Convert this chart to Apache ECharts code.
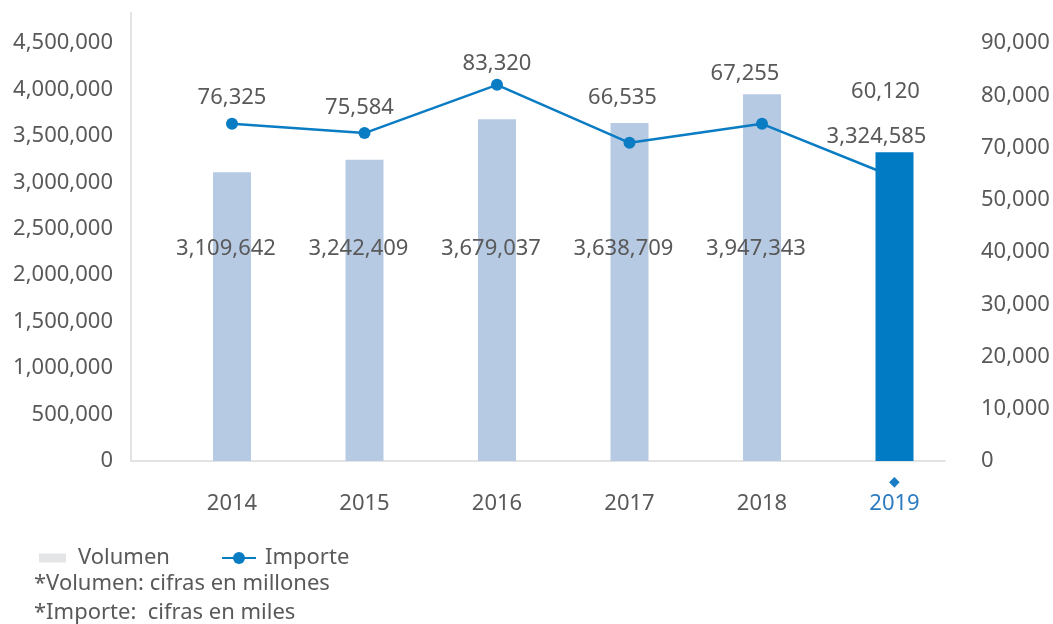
<!DOCTYPE html>
<html><head><meta charset="utf-8">
<script src="https://cdn.jsdelivr.net/npm/echarts@6/dist/echarts.min.js"></script>
<style>html,body{margin:0;padding:0;background:#fff}#c{width:1053px;height:624px}</style>
</head><body><div id="c"></div>
<script>
const years = ['2014', '2015', '2016', '2017', '2018', '2019'];
const volumen = [3109642, 3242409, 3679037, 3638709, 3947343, 3324585];
// line positions
const importe = [72600, 70600, 81000, 68500, 72600, 61100];
// printed data labels for Importe
const importeLabels = [76325, 75584, 83320, 66535, 67255, 60120];
const leftTicks = [0, 500000, 1000000, 1500000, 2000000, 2500000, 3000000, 3500000, 4000000, 4500000];
const rightTicks = [0, 10000, 20000, 30000, 40000, 50000, 70000, 80000, 90000];
const footnotes = ['*Volumen: cifras en millones', '*Importe:  cifras en miles'];

const FONT = '"Noto Sans", sans-serif';
const TXT = '#595959';
const FS = 22;
const fmt = v => v.toLocaleString('en-US');
const lineLabelNudge = [[0, -4], [-5, -3], [0, 1], [-7, -23], [-17, -28], [-9, -63]];
const leftMax = leftTicks[leftTicks.length - 1] * 448 / 418;
const rightStep = 90000 / (rightTicks.length - 1);
const rightMax = 90000 * 448 / 418;

const chart = echarts.init(document.getElementById('c'), null, {renderer: 'canvas'});
chart.setOption({
  animation: false,
  textStyle: {fontFamily: FONT},
  grid: [
    {left: 131, right: 108, top: 13, bottom: 163},
    {left: 232, right: 158.5, top: 13, bottom: 163}
  ],
  xAxis: [
    {type: 'category', gridIndex: 0, data: years, boundaryGap: true,
     axisLine: {lineStyle: {color: '#e3e3e3', width: 2}}, axisTick: {show: false}, axisLabel: {show: false}},
    {type: 'category', gridIndex: 1, data: years, boundaryGap: false,
     axisLine: {show: false}, axisTick: {show: false},
     axisLabel: {margin: 13, interval: 0,
       formatter: (v, i) => i === years.length - 1 ? '{d|◆}\n{h|' + v + '}' : '{e| }\n{y|' + v + '}',
       rich: {
         d: {fontSize: 14, lineHeight: 17, color: '#1a7cc4', fontFamily: 'DejaVu Sans'},
         e: {fontSize: 14, lineHeight: 17},
         y: {fontSize: FS, lineHeight: 26, color: TXT, fontFamily: FONT},
         h: {fontSize: FS, lineHeight: 26, color: '#2c7bc1', fontFamily: FONT}
       }}}
  ],
  yAxis: [
    {type: 'value', gridIndex: 0, position: 'left', min: 0, max: leftMax, interval: 500000,
     axisLine: {show: true, lineStyle: {color: '#e3e3e3', width: 2}}, axisTick: {show: false}, splitLine: {show: false},
     axisLabel: {margin: 18, fontSize: FS, color: TXT, fontFamily: FONT, showMaxLabel: false,
       formatter: v => fmt(v)}},
    {type: 'value', gridIndex: 0, position: 'right', min: 0, max: rightMax, interval: rightStep,
     axisLine: {show: false}, axisTick: {show: false}, splitLine: {show: false},
     axisLabel: {margin: 36, fontSize: FS, color: TXT, fontFamily: FONT, showMaxLabel: false,
       formatter: v => { const i = Math.round(v / rightStep); return i < rightTicks.length ? fmt(rightTicks[i]) : ''; }}},
    {type: 'value', gridIndex: 1, min: 0, max: leftMax, show: false},
    {type: 'value', gridIndex: 1, min: 0, max: rightMax, show: false}
  ],
  legend: [
    {left: 34, top: 542, itemWidth: 27, itemHeight: 9,
     textStyle: {fontSize: FS, color: TXT, fontFamily: FONT, padding: [0, 0, 0, 7]},
     data: [{name: 'Volumen', icon: 'rect', itemStyle: {color: '#e4e5e7'}}]},
    {left: 216, top: 542, itemWidth: 34, itemHeight: 15,
     textStyle: {fontSize: FS, color: TXT, fontFamily: FONT, padding: [0, 0, 0, 4]},
     data: [{name: 'Importe'}]}
  ],
  graphic: footnotes.map((t, i) => ({
    type: 'text', left: 34, top: 573 + i * 29,
    style: {text: t, fontSize: FS, fill: TXT, fontFamily: FONT}
  })),
  series: [
    {name: 'Volumen', type: 'bar', xAxisIndex: 1, yAxisIndex: 2, barWidth: 38, barGap: '-100%', z: 1,
     itemStyle: {color: '#b7cae3'},
     data: volumen.map((v, i) => i < volumen.length - 1 ? v : '-'),
     label: {show: true, position: 'insideBottom', distance: 201, offset: [-6, 0], fontSize: FS, color: TXT, fontFamily: FONT,
       formatter: p => fmt(p.value)}},
    {name: 'Importe', type: 'line', xAxisIndex: 1, yAxisIndex: 3, z: 2,
     symbol: 'circle', symbolSize: 12,
     lineStyle: {color: '#0a7cc4', width: 2.5}, itemStyle: {color: '#0a7cc4'},
     data: importe.map((v, i) => ({value: v, label: {offset: lineLabelNudge[i]}})),
     label: {show: true, position: 'top', fontSize: FS, color: TXT, fontFamily: FONT,
       formatter: p => fmt(importeLabels[p.dataIndex])}},
    {name: 'Volumen 2019', type: 'bar', xAxisIndex: 1, yAxisIndex: 2, barWidth: 38, barGap: '-100%', z: 3,
     itemStyle: {color: '#007bc4'},
     data: volumen.map((v, i) => i === volumen.length - 1 ? v : '-'),
     label: {show: true, position: 'top', distance: 4, offset: [-18, 0], fontSize: FS, color: TXT, fontFamily: FONT,
       formatter: p => fmt(p.value)}}
  ]
});
</script></body></html>
